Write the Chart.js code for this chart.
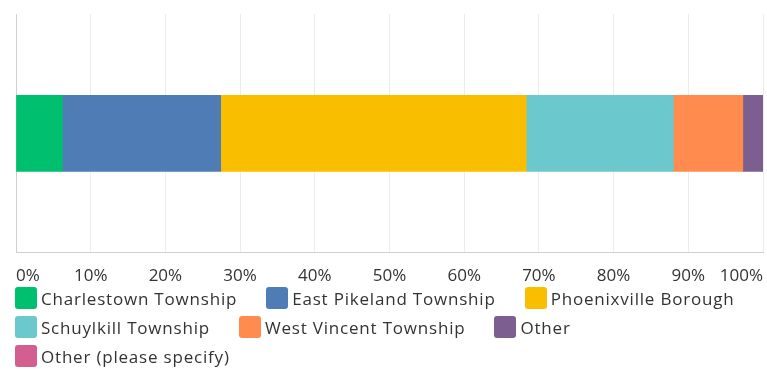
<!DOCTYPE html>
<html>
<head>
<meta charset="utf-8">
<script src="https://cdn.jsdelivr.net/npm/chart.js@4"></script>
<style>
  html, body { margin: 0; padding: 0; background: #fff; overflow: hidden; }
  #wrap { width: 767px; height: 371px; position: relative; }
  #chart-box { width: 767px; height: 299px; position: relative; }
  #legend {
    position: absolute; left: 15px; top: 287px; width: 752px;
    display: flex; flex-wrap: wrap; row-gap: 7px;
    font-family: 'Open Sans', sans-serif; font-size: 17px; letter-spacing: 0.8px; color: #333;
  }
  .item { display: flex; align-items: center; margin-right: 29px; height: 22px; }
  .swatch { width: 22px; height: 22px; border-radius: 3px; margin-right: 4px; }
</style>
</head>
<body>
<div id="wrap">
  <div id="chart-box"><canvas id="chart"></canvas></div>
  <div id="legend"></div>
</div>
<script>
// Share of responses by municipality (percent)
const categories = [
  'Charlestown Township',
  'East Pikeland Township',
  'Phoenixville Borough',
  'Schuylkill Township',
  'West Vincent Township',
  'Other',
  'Other (please specify)'
];
const shares = [6.2, 21.2, 40.9, 19.7, 9.3, 2.7, 0];
const colors = ['#00BF6F', '#507CB6', '#F9BE00', '#6BC8CD', '#FF8B4F', '#7D5E90', '#D25F90'];

const FONT = "'Open Sans', sans-serif";

const datasets = categories.map((name, i) => ({
  label: name,
  data: [shares[i]],
  backgroundColor: colors[i],
  borderWidth: 0,
  barThickness: 76
}));

new Chart(document.getElementById('chart'), {
  type: 'bar',
  data: { labels: [''], datasets },
  options: {
    indexAxis: 'y',
    responsive: true,
    maintainAspectRatio: false,
    animation: false,
    layout: { padding: { left: 16, right: 4, top: 14, bottom: 0 } },
    plugins: {
      legend: { display: false },
      tooltip: { enabled: false }
    },
    scales: {
      x: {
        stacked: true,
        min: 0,
        max: 100,
        border: { display: true, color: '#cfcfcf', width: 1 },
        grid: {
          drawTicks: false,
          color: ctx => ctx.index === 0 ? '#cfcfcf' : '#ececec'
        },
        ticks: {
          stepSize: 10,
          align: 'inner',
          padding: 13,
          color: '#333',
          font: { family: FONT, size: 17 },
          callback: v => v + '%'
        },
        // labels are kept inside, so the plot can run to the edges
        afterFit: scale => {
          scale.paddingLeft = 0;
          scale.paddingRight = 0;
        }
      },
      y: {
        stacked: true,
        display: false
      }
    }
  }
});

// legend below the plot
const legend = document.getElementById('legend');
categories.forEach((name, i) => {
  const item = document.createElement('div');
  item.className = 'item';
  const sw = document.createElement('span');
  sw.className = 'swatch';
  sw.style.background = colors[i];
  const txt = document.createElement('span');
  txt.textContent = name;
  item.appendChild(sw);
  item.appendChild(txt);
  legend.appendChild(item);
});
</script>
</body>
</html>
